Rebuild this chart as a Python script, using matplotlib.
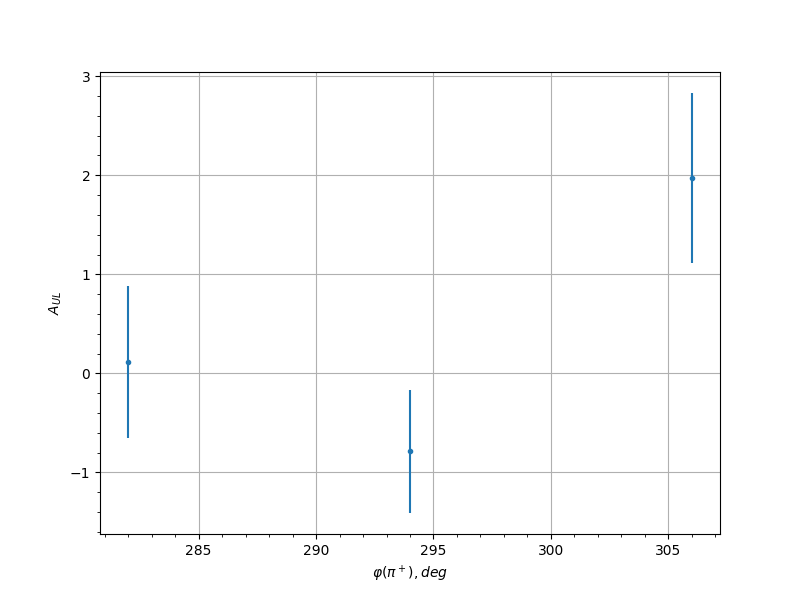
import matplotlib
matplotlib.use("Agg")
import matplotlib.pyplot as plt

phi = [282, 294, 306]
a_ul = [0.111, -0.788, 1.97]
a_ul_err = [0.768, 0.621, 0.86]

fig, ax = plt.subplots(figsize=(8, 6), dpi=100)
ax.errorbar(phi, a_ul, yerr=a_ul_err, fmt='.')
ax.set_xlabel(r'$\varphi(\pi^+), deg$')
ax.set_ylabel(r'$A_{UL}$')
ax.minorticks_on()
ax.grid(which='major')

fig.savefig("out.png")
